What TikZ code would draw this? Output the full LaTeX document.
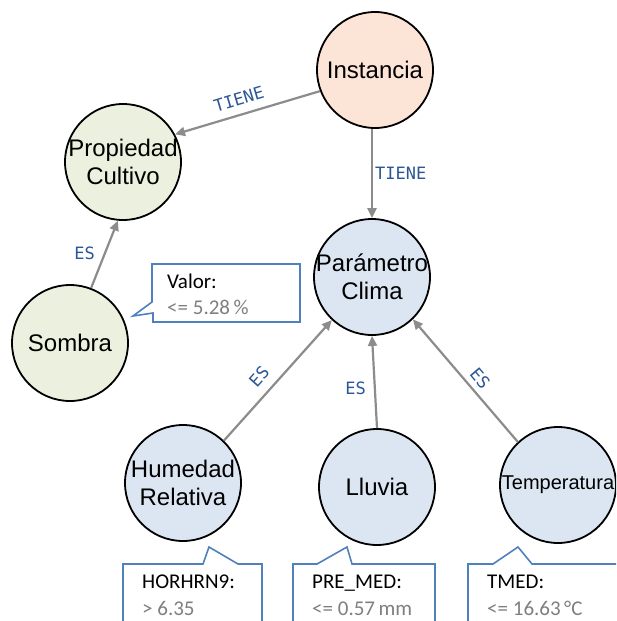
\documentclass[tikz,border=0pt]{standalone}
\usepackage{fontspec}
\setmainfont{Liberation Sans}
\newfontfamily\calloutfont{Carlito}
\newfontfamily\relfont{DejaVu Sans Mono}
\usetikzlibrary{arrows.meta}

\definecolor{peach}{HTML}{FCE4D6}
\definecolor{leaf}{HTML}{EBF1DE}
\definecolor{sky}{HTML}{DCE6F2}
\definecolor{arrowgray}{HTML}{8C8C8C}
\definecolor{labblue}{RGB}{44,87,150}
\definecolor{callblue}{HTML}{4F81BD}
\definecolor{valgray}{HTML}{7F7F7F}

\tikzset{
  concept/.style={circle, draw=black, line width=1.8pt, minimum size=116pt, inner sep=0pt},
  ctitle/.style={align=center, inner sep=0pt, font=\fontsize{24}{28}\selectfont},
  rel/.style={draw=arrowgray, line width=2.2pt, -{Triangle[length=10pt,width=9pt]}},
  lab/.style={text=labblue, inner sep=2pt, font=\relfont\fontsize{17}{17}\selectfont},
  callout/.style={draw=callblue, line width=1.6pt, fill=white, line join=miter},
  ctext/.style={anchor=base west, inner sep=0pt, font=\calloutfont\fontsize{21}{21}\selectfont},
  cval/.style={ctext, text=valgray}
}

\begin{document}
\begin{tikzpicture}[x=1pt,y=-1pt]
\useasboundingbox (0,0) rectangle (616,621);
\fill[white] (0,0) rectangle (616,621);
\clip (0,0) rectangle (616,621);

% concepts
\node[concept, fill=peach] (inst) at (375,70) {};
\node[ctitle] (inst-t) at (inst) {Instancia};
\node[concept, fill=leaf] (prop) at (123,162) {};
\node[ctitle] (prop-t) at (prop) {Propiedad\\Cultivo};
\node[concept, fill=leaf] (sombra) at (70,343) {};
\node[ctitle] (sombra-t) at (sombra) {Sombra};
\node[concept, fill=sky] (param) at (372,277) {};
\node[ctitle] (param-t) at (param) {Parámetro\\Clima};
\node[concept, fill=sky] (hum) at (183,483) {};
\node[ctitle] (hum-t) at (hum) {Humedad\\Relativa};
\node[concept, fill=sky] (lluvia) at (377,487) {};
\node[ctitle] (lluvia-t) at (lluvia) {Lluvia};
\node[concept, fill=sky] (temp) at (558,485) {};
\node[ctitle, font=\fontsize{20}{24}\selectfont] (temp-t) at (temp) {Temperatura};

% relations
\draw[rel] (inst.201) -- (prop.28)
  node[lab, pos=0.53, sloped, above=6pt] {TIENE};
\draw[rel] (param.north |- inst.south) -- (param.north)
  node[lab, midway, right] {TIENE};
\draw[rel] (sombra.69) -- (prop.265)
  node[lab, pos=0.52, left=7pt] {ES};
\draw[rel] (hum.46) -- (param.227)
  node[lab, pos=0.44, sloped, above=7pt] {ES};
\draw[rel] (lluvia.north) -- (param.south)
  node[lab, pos=0.43, left=6pt] {ES};
\draw[rel] (temp.133) -- (param.314)
  node[lab, pos=0.45, sloped, above=3pt] {ES};

% value callouts
\draw[callout] (152,264) -- (300,264) -- (300,322) -- (153,322) -- (153,313)
  -- (133,316) -- (152,302) -- cycle;
\node[ctext] (valor-k) at (167,288) {Valor:};
\node[cval] (valor-v) at (167,314) {<= 5.28\,\%};

\draw[callout] (123,640) -- (123,564) -- (203,564) -- (209,547) -- (238,564)
  -- (262,564) -- (262,640);
\node[ctext] (hum-k) at (142,588) {HORHRN9:};
\node[cval] (hum-v) at (142,615) {> 6.35};

\draw[callout] (293,640) -- (293,564) -- (317,564) -- (347,547) -- (352,564)
  -- (435,564) -- (435,640);
\node[ctext] (pre-k) at (312,588) {PRE\_MED:};
\node[cval] (pre-v) at (312,615) {<= 0.57\,mm};

\draw[callout] (468,640) -- (468,564) -- (493,564) -- (518,547) -- (532,564)
  -- (640,564) -- (640,640);
\node[ctext] (tmed-k) at (487,588) {TMED:};
\node[cval] (tmed-v) at (487,615) {<= 16.63\,°C};
\end{tikzpicture}
\end{document}
